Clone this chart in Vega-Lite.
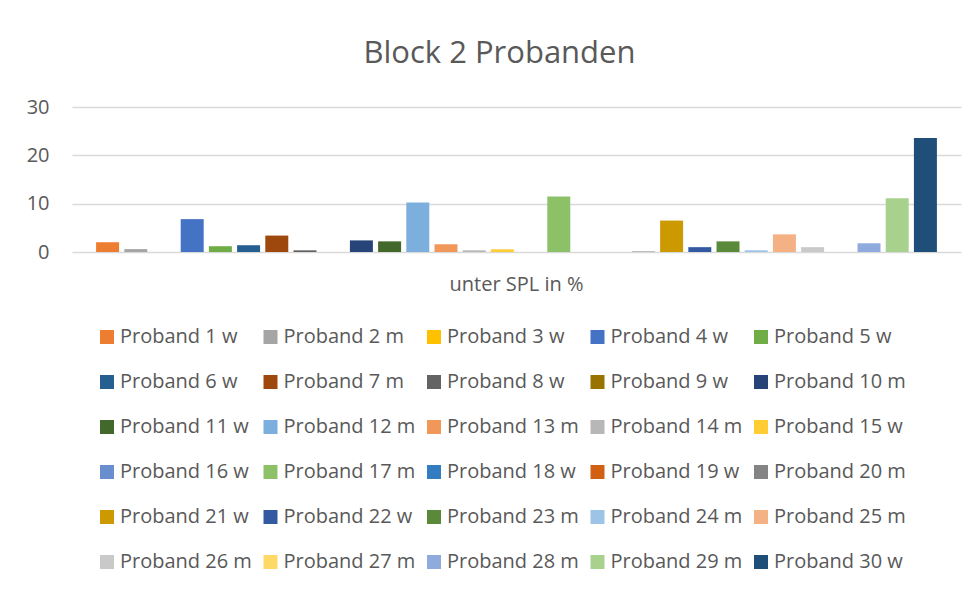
{
  "$schema": "https://vega.github.io/schema/vega-lite/v6.json",
  "width": 889,
  "height": 145,
  "autosize": {"type": "none"},
  "padding": {"left": 72, "top": 107, "right": 17, "bottom": 340},
  "background": "white",
  "title": {
    "text": "Block 2 Probanden",
    "anchor": "middle",
    "frame": "group",
    "dx": -17,
    "offset": 3,
    "baseline": "alphabetic",
    "font": "Open Sans",
    "fontSize": 31,
    "fontWeight": "normal",
    "color": "#595959"
  },
  "data": {
    "values": [
      {"Kategorie": "unter SPL in %", "Proband": "Proband 1 w", "Wert": 2.0},
      {"Kategorie": "unter SPL in %", "Proband": "Proband 2 m", "Wert": 0.6},
      {"Kategorie": "unter SPL in %", "Proband": "Proband 3 w", "Wert": 0},
      {"Kategorie": "unter SPL in %", "Proband": "Proband 4 w", "Wert": 6.8},
      {"Kategorie": "unter SPL in %", "Proband": "Proband 5 w", "Wert": 1.2},
      {"Kategorie": "unter SPL in %", "Proband": "Proband 6 w", "Wert": 1.4},
      {"Kategorie": "unter SPL in %", "Proband": "Proband 7 m", "Wert": 3.4},
      {"Kategorie": "unter SPL in %", "Proband": "Proband 8 w", "Wert": 0.35},
      {"Kategorie": "unter SPL in %", "Proband": "Proband 9 w", "Wert": 0},
      {"Kategorie": "unter SPL in %", "Proband": "Proband 10 m", "Wert": 2.4},
      {"Kategorie": "unter SPL in %", "Proband": "Proband 11 w", "Wert": 2.2},
      {"Kategorie": "unter SPL in %", "Proband": "Proband 12 m", "Wert": 10.25},
      {"Kategorie": "unter SPL in %", "Proband": "Proband 13 m", "Wert": 1.6},
      {"Kategorie": "unter SPL in %", "Proband": "Proband 14 m", "Wert": 0.35},
      {"Kategorie": "unter SPL in %", "Proband": "Proband 15 w", "Wert": 0.55},
      {"Kategorie": "unter SPL in %", "Proband": "Proband 16 w", "Wert": 0},
      {"Kategorie": "unter SPL in %", "Proband": "Proband 17 m", "Wert": 11.5},
      {"Kategorie": "unter SPL in %", "Proband": "Proband 18 w", "Wert": 0},
      {"Kategorie": "unter SPL in %", "Proband": "Proband 19 w", "Wert": 0},
      {"Kategorie": "unter SPL in %", "Proband": "Proband 20 m", "Wert": 0.1},
      {"Kategorie": "unter SPL in %", "Proband": "Proband 21 w", "Wert": 6.5},
      {"Kategorie": "unter SPL in %", "Proband": "Proband 22 w", "Wert": 1.0},
      {"Kategorie": "unter SPL in %", "Proband": "Proband 23 m", "Wert": 2.2},
      {"Kategorie": "unter SPL in %", "Proband": "Proband 24 m", "Wert": 0.35},
      {"Kategorie": "unter SPL in %", "Proband": "Proband 25 m", "Wert": 3.65},
      {"Kategorie": "unter SPL in %", "Proband": "Proband 26 m", "Wert": 1.0},
      {"Kategorie": "unter SPL in %", "Proband": "Proband 27 m", "Wert": 0},
      {"Kategorie": "unter SPL in %", "Proband": "Proband 28 m", "Wert": 1.8},
      {"Kategorie": "unter SPL in %", "Proband": "Proband 29 m", "Wert": 11.1},
      {"Kategorie": "unter SPL in %", "Proband": "Proband 30 w", "Wert": 23.6}
    ]
  },
  "mark": {"type": "bar"},
  "encoding": {
    "x": {
      "field": "Kategorie",
      "type": "nominal",
      "scale": {"paddingInner": 0, "paddingOuter": 0.0254},
      "axis": {
        "title": null,
        "labelAngle": 0,
        "ticks": false,
        "tickSize": 0,
        "domain": false,
        "labelPadding": 38,
        "labelBaseline": "alphabetic",
        "labelFont": "Open Sans",
        "labelFontSize": 20,
        "labelColor": "#595959"
      }
    },
    "xOffset": {
      "field": "Proband",
      "type": "nominal",
      "sort": null,
      "scale": {"paddingInner": 0.185, "paddingOuter": 0.0925}
    },
    "y": {
      "field": "Wert",
      "type": "quantitative",
      "scale": {"domain": [0, 30]},
      "axis": {
        "title": null,
        "values": [0, 10, 20, 30],
        "ticks": false,
        "tickSize": 0,
        "domain": false,
        "labelPadding": 23,
        "labelFont": "Open Sans",
        "labelFontSize": 20,
        "labelColor": "#595959",
        "gridColor": "#d9d9d9",
        "gridWidth": 1.5
      }
    },
    "color": {
      "field": "Proband",
      "type": "nominal",
      "sort": null,
      "scale": {
        "domain": ["Proband 1 w", "Proband 2 m", "Proband 3 w", "Proband 4 w", "Proband 5 w", "Proband 6 w", "Proband 7 m", "Proband 8 w", "Proband 9 w", "Proband 10 m", "Proband 11 w", "Proband 12 m", "Proband 13 m", "Proband 14 m", "Proband 15 w", "Proband 16 w", "Proband 17 m", "Proband 18 w", "Proband 19 w", "Proband 20 m", "Proband 21 w", "Proband 22 w", "Proband 23 m", "Proband 24 m", "Proband 25 m", "Proband 26 m", "Proband 27 m", "Proband 28 m", "Proband 29 m", "Proband 30 w"],
        "range": ["#ED7D31", "#A5A5A5", "#FFC000", "#4472C4", "#70AD47", "#255E91", "#9E480E", "#636363", "#997300", "#264478", "#43682B", "#7CAFDD", "#F1975A", "#B7B7B7", "#FFCD33", "#698ED0", "#8CC168", "#327DC2", "#D26012", "#848484", "#CC9A00", "#335AA1", "#5A8A39", "#9DC3E6", "#F4B183", "#C9C9C9", "#FFD966", "#8FAADC", "#A9D18E", "#1F4E79"]
      },
      "legend": {
        "title": null,
        "orient": "none",
        "legendX": 25,
        "legendY": 220,
        "direction": "horizontal",
        "columns": 5,
        "gridAlign": "all",
        "columnPadding": 8.5,
        "rowPadding": 25,
        "symbolType": "square",
        "symbolSize": 196,
        "symbolStrokeWidth": 0,
        "labelOffset": 3,
        "labelFont": "Open Sans",
        "labelFontSize": 20,
        "labelColor": "#595959",
        "labelLimit": 300
      }
    }
  },
  "config": {
    "view": {"stroke": null},
    "axis": {"gridColor": "#d9d9d9"}
  }
}
